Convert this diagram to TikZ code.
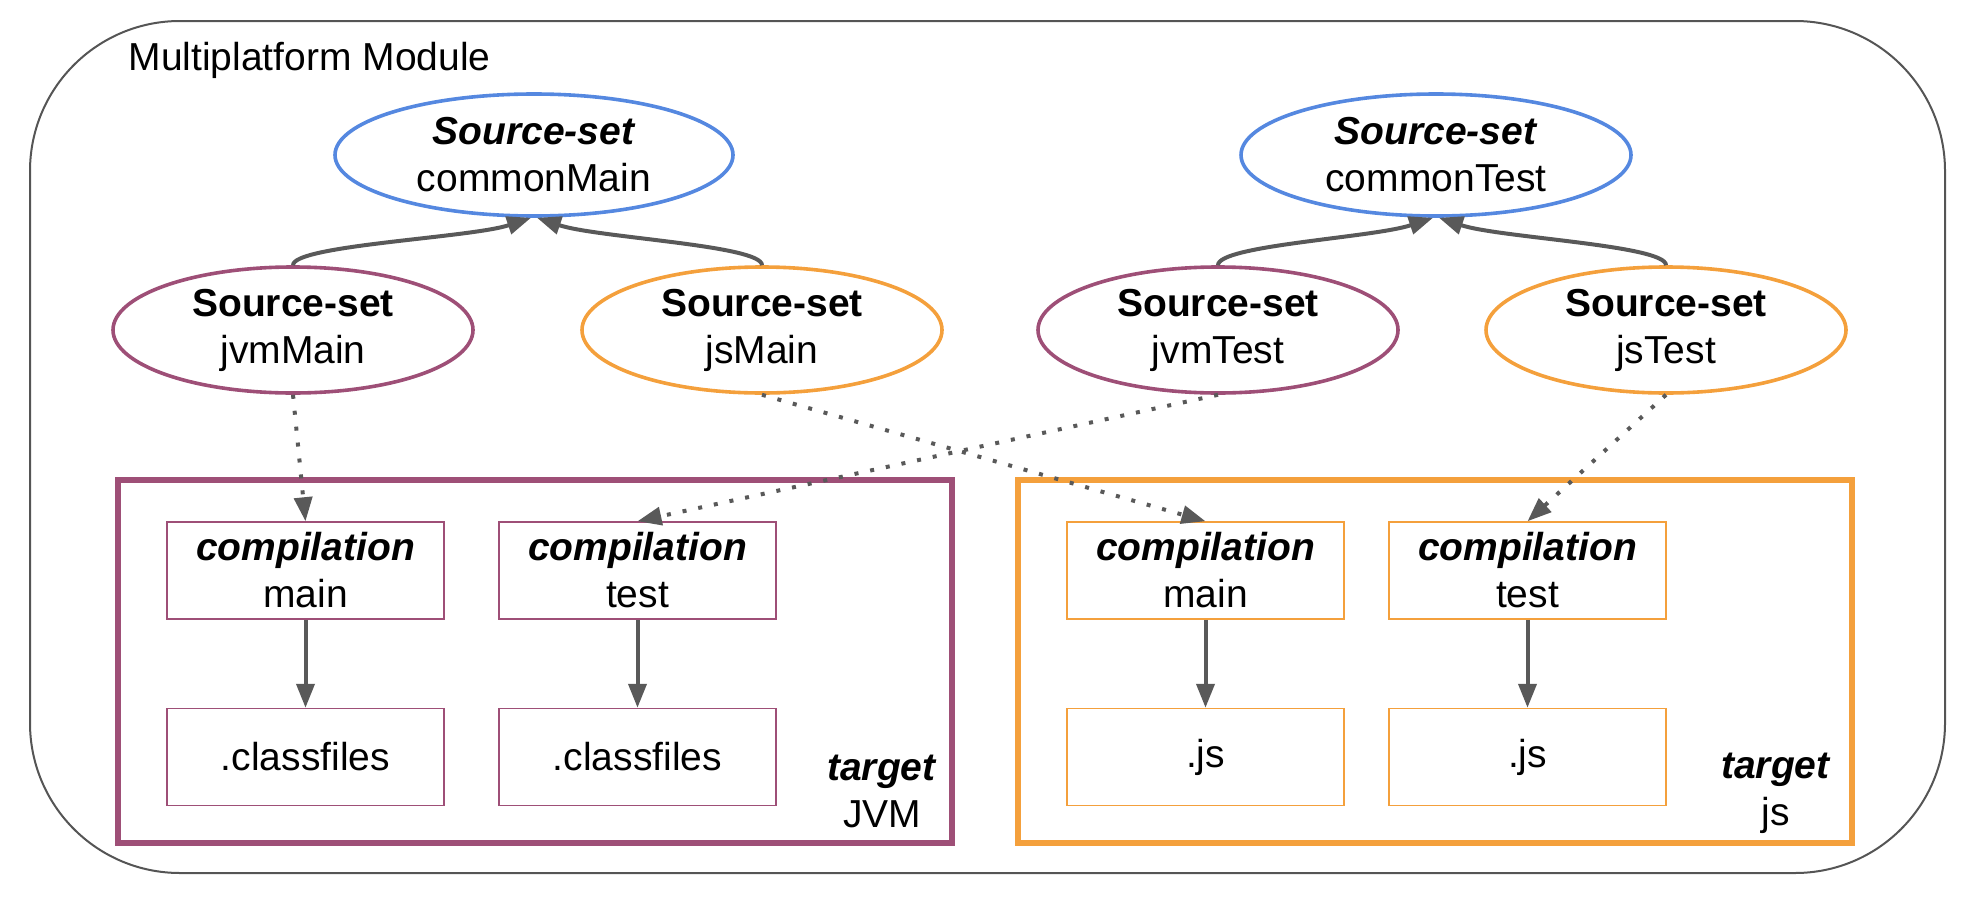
\documentclass[tikz,border=0pt]{standalone}
\usepackage{fontspec}
\setmainfont{Liberation Sans}
\usepackage{xcolor}
\usepackage{tikz}
\usetikzlibrary{arrows.meta,shapes.geometric}

\definecolor{jvmcol}{HTML}{9E4F77}
\definecolor{jscol}{HTML}{F4A03C}
\definecolor{commoncol}{HTML}{5588E0}
\definecolor{arrcol}{HTML}{595959}
\definecolor{framecol}{HTML}{555555}

\begin{document}
\begin{tikzpicture}[x=1pt,y=1pt,
    font=\fontsize{39}{47}\selectfont,
    srcset/.style={ellipse, draw, line width=3.6pt, inner sep=0pt,
      minimum width=360pt, minimum height=126pt, align=center},
    compbox/.style={rectangle, draw, line width=1.5pt, inner sep=0pt,
      minimum width=277pt, minimum height=97pt, align=center},
    targetbox/.style={rectangle, draw, line width=6pt, inner sep=0pt,
      minimum width=834pt, minimum height=363pt},
    arr/.style={draw=arrcol, line width=4pt,
      -{Triangle[length=24pt,width=18pt]}},
    dotarr/.style={arr, dash pattern=on 4pt off 12pt}]
  \def\rowA{-155} \def\rowB{-330}
  \def\rowC{-570.5} \def\rowD{-757}

  \useasboundingbox (0,0) rectangle (1970,-902);

  % module frame
  \draw[framecol, line width=2pt, rounded corners=150pt]
    (30,-21) rectangle (1945,-873);
  \node[anchor=base west] (title) at (125,-70) {Multiplatform Module};

  % source sets
  \node[srcset, draw=commoncol, minimum width=398pt, minimum height=122pt]
    (commonMain) at (534,\rowA) {\textbf{\textit{Source-set}}\\commonMain};
  \node[srcset, draw=commoncol, minimum width=390pt, minimum height=122pt]
    (commonTest) at (1436,\rowA) {\textbf{\textit{Source-set}}\\commonTest};
  \node[srcset, draw=jvmcol] (jvmMain) at (293,\rowB) {\textbf{Source-set}\\jvmMain};
  \node[srcset, draw=jscol] (jsMain) at (762,\rowB) {\textbf{Source-set}\\jsMain};
  \node[srcset, draw=jvmcol] (jvmTest) at (1218,\rowB) {\textbf{Source-set}\\jvmTest};
  \node[srcset, draw=jscol] (jsTest) at (1666,\rowB) {\textbf{Source-set}\\jsTest};

  % dependsOn
  \draw[arr] (jvmMain.north) .. controls +(0,20) and +(-60,-20) .. ([xshift=-3pt]commonMain.south);
  \draw[arr] (jsMain.north) .. controls +(0,20) and +(60,-20) .. ([xshift=3pt]commonMain.south);
  \draw[arr] (jvmTest.north) .. controls +(0,20) and +(-60,-20) .. ([xshift=-3pt]commonTest.south);
  \draw[arr] (jsTest.north) .. controls +(0,20) and +(60,-20) .. ([xshift=3pt]commonTest.south);

  % targets
  \node[targetbox, draw=jvmcol] (jvmTarget) at (535,-661.5) {};
  \node[targetbox, draw=jscol] (jsTarget) at (1435,-661.5) {};
  \node[align=center] (jvmLabel) at (882,-791) {\textbf{\textit{target}}\\JVM};
  \node[align=center] (jsLabel) at (1776,-793) {\textbf{\textit{target}}\\js};

  % compilations and outputs
  \node[compbox, draw=jvmcol] (jvmCompMain) at (305.5,\rowC) {\textbf{\textit{compilation}}\\main};
  \node[compbox, draw=jvmcol] (jvmCompTest) at (637.5,\rowC) {\textbf{\textit{compilation}}\\test};
  \node[compbox, draw=jvmcol] (jvmOutMain) at (305.5,\rowD) {.classfiles};
  \node[compbox, draw=jvmcol] (jvmOutTest) at (637.5,\rowD) {.classfiles};
  \node[compbox, draw=jscol] (jsCompMain) at (1205.5,\rowC) {\textbf{\textit{compilation}}\\main};
  \node[compbox, draw=jscol] (jsCompTest) at (1527.5,\rowC) {\textbf{\textit{compilation}}\\test};
  \node[compbox, draw=jscol] (jsOutMain) at (1205.5,\rowD) {.js};
  \node[compbox, draw=jscol] (jsOutTest) at (1527.5,\rowD) {.js};

  \foreach \a/\b in {jvmCompMain/jvmOutMain, jvmCompTest/jvmOutTest,
                     jsCompMain/jsOutMain, jsCompTest/jsOutTest}
    \draw[arr] (\a.south) -- (\b.north);

  % source set -> compilation
  \draw[dotarr] (jvmMain.south) -- (jvmCompMain.north);
  \draw[dotarr] (jsMain.south) -- (jsCompMain.north);
  \draw[dotarr] (jvmTest.south) -- (jvmCompTest.north);
  \draw[dotarr] (jsTest.south) -- (jsCompTest.north);
\end{tikzpicture}
\end{document}
